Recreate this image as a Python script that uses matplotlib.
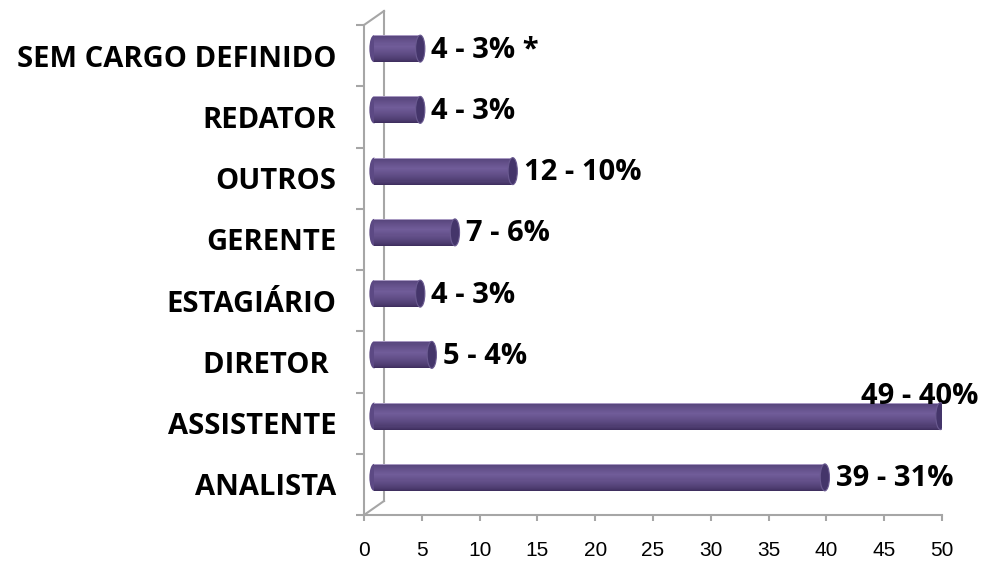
import numpy as np
import matplotlib
matplotlib.use("Agg")
import matplotlib.pyplot as plt
from matplotlib.patches import Ellipse
from matplotlib.lines import Line2D
from matplotlib.transforms import offset_copy, IdentityTransform

# data (bottom to top)
cargos = ["ANALISTA", "ASSISTENTE", "DIRETOR ", "ESTAGIÁRIO",
          "GERENTE", "OUTROS", "REDATOR", "SEM CARGO DEFINIDO"]
qtd = [39, 49, 5, 4, 7, 12, 4, 4]
pct = [31, 40, 4, 3, 6, 10, 3, 3]
nota = ["", "", "", "", "", "", "", " *"]
xticks = [0, 5, 10, 15, 20, 25, 30, 35, 40, 45, 50]

LABEL_FONT = "Open Sans"
GRAY = "#a6a6a6"

fig = plt.figure(figsize=(10.06, 5.65), dpi=100)
ax = fig.add_axes([364 / 1006, 50 / 565, 578 / 1006, 490 / 565])
ax.set_xlim(0, 50)
ax.set_ylim(-0.5, len(cargos) - 0.5)

# 3d look: bars sit half way into the depth of the box
depth_x, depth_y = 20, 14
shift = offset_copy(ax.transData, fig=fig, x=depth_x / 2, y=depth_y / 2, units="dots")
back = offset_copy(ax.transData, fig=fig, x=depth_x, y=depth_y, units="dots")

# back wall
ax.plot([0, 0], [-0.5, len(cargos) - 0.5], color=GRAY, lw=1.5,
        transform=back, clip_on=False, zorder=0)
fig.canvas.draw()
for yy in (-0.5, len(cargos) - 0.5):
    p0 = ax.transData.transform((0, yy))
    fig.add_artist(Line2D([p0[0], p0[0] + depth_x], [p0[1], p0[1] + depth_y],
                          transform=IdentityTransform(), color=GRAY, lw=1.5))

# cylinders
h = 0.44
cap_w = 0.8
n = 26
prof = np.linspace(0, 1, n)  # 0 = bottom, 1 = top
dark = np.array([0.22, 0.16, 0.34])
light = np.array([0.44, 0.36, 0.60])
rim = np.array([0.66, 0.60, 0.76])
ypos = np.arange(len(cargos))

for y, v in zip(ypos, qtd):
    ax.add_patch(Ellipse((0, y), cap_w, h, facecolor="#5c4984",
                         edgecolor="none", transform=shift, zorder=2))
    for i, t in enumerate(prof):
        # brightest a bit above middle, dark edges, light rim on top
        k = np.clip(1 - abs(t - 0.6) / 0.62, 0, 1) ** 0.6
        c = dark + (light - dark) * k
        if i == n - 1:
            c = rim
        ax.barh(y - h / 2 + (i + 0.5) * h / n, v, height=h / n * 1.05, left=0,
                color=c, edgecolor="none", transform=shift, zorder=3)
    ax.add_patch(Ellipse((v, y), cap_w, h, facecolor="#44356a",
                         edgecolor="#6a5a90", lw=0.8, transform=shift, zorder=4))

# value labels
top_i = int(np.argmax(qtd))
for y, v, p, s in zip(ypos, qtd, pct, nota):
    txt = f"{v} - {p}%{s}"
    if y == top_i:
        ax.annotate(txt, (v, y), xytext=(-57, 14), textcoords="offset points",
                    xycoords=shift, ha="left", va="center", fontsize=21,
                    fontweight="bold", family=LABEL_FONT, annotation_clip=False)
    else:
        ax.annotate(txt, (v, y), xytext=(8, -1), textcoords="offset points",
                    xycoords=shift, ha="left", va="center", fontsize=21,
                    fontweight="bold", family=LABEL_FONT, annotation_clip=False)

# axes
for side in ("top", "right"):
    ax.spines[side].set_visible(False)
for side in ("left", "bottom"):
    ax.spines[side].set_color(GRAY)
    ax.spines[side].set_linewidth(1.5)

ax.set_xticks(xticks)
ax.set_xticklabels([str(t) for t in xticks], fontsize=15, family="Liberation Sans")
ax.tick_params(axis="x", length=4.5, width=1.5, color=GRAY, pad=14)

ax.set_yticks(ypos)
ax.set_yticklabels(cargos, fontsize=21, fontweight="bold", family=LABEL_FONT)
ax.set_yticks(np.arange(-0.5, len(cargos)), minor=True)
ax.tick_params(axis="y", which="major", length=0, pad=20)
ax.tick_params(axis="y", which="minor", length=6, width=1.5, color=GRAY)

fig.savefig("out.png", dpi=100)
